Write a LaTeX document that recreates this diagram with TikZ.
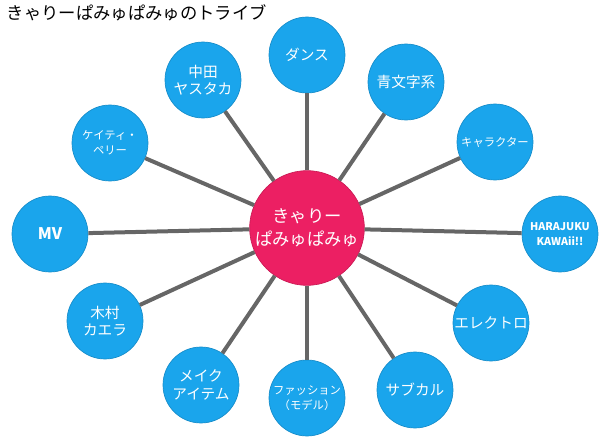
\documentclass[tikz,border=0pt]{standalone}
\usepackage{fontspec}
\setmainfont{Noto Sans CJK JP}
\definecolor{hub}{HTML}{EC1F63}
\definecolor{leaf}{HTML}{1AA5EC}
\definecolor{edge}{HTML}{666666}
\begin{document}
\begin{tikzpicture}[x=0.75pt,y=-0.75pt,
  leafnode/.style={circle,fill=leaf,draw=leaf!85!black,line width=0.5pt,minimum size=57pt,inner sep=0pt,align=center,text=white,font=\fontsize{11}{13}\selectfont},
  smalltext/.style={font=\fontsize{8.5}{11}\selectfont},
  hubnode/.style={circle,fill=hub,draw=hub!85!black,line width=0.5pt,minimum size=86pt,inner sep=0pt,align=center,text=white,font=\fontsize{13}{17}\selectfont},
  link/.style={draw=edge,line width=3pt}]
\useasboundingbox (0,0) rectangle (600,442);
\node[anchor=west,font=\fontsize{13}{15}\selectfont] (title) at (2,13) {きゃりーぱみゅぱみゅのトライブ};
\node[hubnode] (c) at (307,228) {きゃりー\\ぱみゅぱみゅ};
\node[leafnode] (n1) at (307,55) {ダンス};
\node[leafnode] (n2) at (406,82) {青文字系};
\node[leafnode,smalltext] (n3) at (495,142) {キャラクター};
\node[leafnode,font=\bfseries\fontsize{8}{11}\selectfont] (n4) at (560,234) {HARAJUKU\\KAWAii!!};
\node[leafnode] (n5) at (491,323) {エレクトロ};
\node[leafnode] (n6) at (415,390) {サブカル};
\node[leafnode,smalltext] (n7) at (307,398) {ファッション\\（モデル）};
\node[leafnode] (n8) at (201,385) {メイク\\アイテム};
\node[leafnode] (n9) at (105,321) {木村\\カエラ};
\node[leafnode,font=\bfseries\fontsize{12}{14}\selectfont] (n10) at (50,234) {MV};
\node[leafnode,smalltext] (n11) at (110,143) {ケイティ・\\ペリー};
\node[leafnode] (n12) at (203,80) {中田\\ヤスタカ};
\begin{scope}[on background layer/.style={}]
\end{scope}
\foreach \i in {1,...,12} {\path[link] (c) -- (n\i);}
\end{tikzpicture}
\end{document}
